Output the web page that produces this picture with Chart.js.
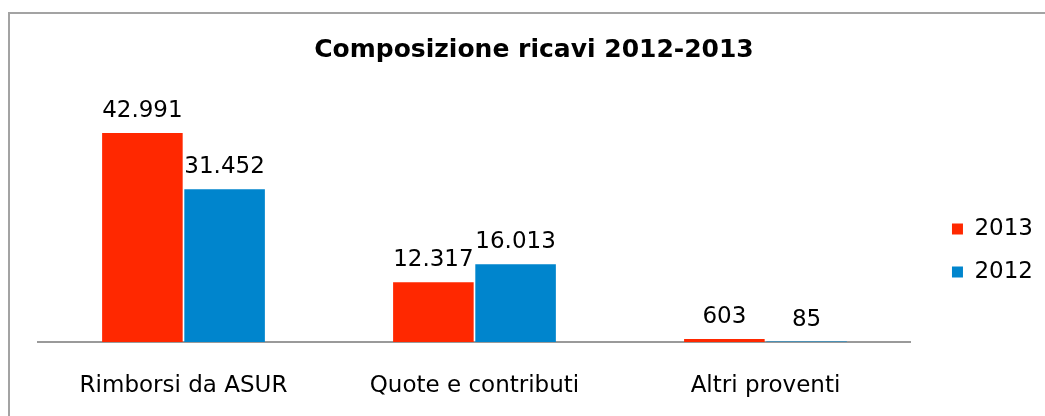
<!DOCTYPE html>
<html>
<head>
<meta charset="utf-8">
<script src="https://cdn.jsdelivr.net/npm/chart.js@4/dist/chart.umd.min.js"></script>
<style>
  html, body { margin: 0; padding: 0; background: #ffffff; overflow: hidden; }
  #frame { position: absolute; left: 8px; top: 12px; width: 2000px; height: 2000px; border: 2px solid #a3a3a3; z-index: 0; }
  #c { position: absolute; left: 0; top: 0; z-index: 1; }
</style>
</head>
<body>
<div id="frame"></div>
<canvas id="c" width="1045" height="416"></canvas>
<script>
const categories = ['Rimborsi da ASUR', 'Quote e contributi', 'Altri proventi'];
const seriesNames = ['2013', '2012'];
const values2013 = [42991, 12317, 603];
const values2012 = [31452, 16013, 85];
const titleText = 'Composizione ricavi 2012-2013';

const FONT = 'DejaVu Sans';

function fmtIt(v) {
  return String(v).replace(/\B(?=(\d{3})+(?!\d))/g, '.');
}

const valueLabels = {
  id: 'valueLabels',
  afterDatasetsDraw(chart) {
    const ctx = chart.ctx;
    ctx.save();
    ctx.font = '23px "' + FONT + '"';
    ctx.fillStyle = '#000000';
    ctx.textAlign = 'center';
    ctx.textBaseline = 'alphabetic';
    chart.data.datasets.forEach((ds, di) => {
      const meta = chart.getDatasetMeta(di);
      meta.data.forEach((bar, i) => {
        ctx.fillText(fmtIt(ds.data[i]), bar.x, bar.y - 16);
      });
    });
    ctx.restore();
  }
};

new Chart(document.getElementById('c'), {
  type: 'bar',
  data: {
    labels: categories,
    datasets: [
      { label: seriesNames[0], data: values2013, backgroundColor: '#ff2800', categoryPercentage: 0.565, barPercentage: 0.98 },
      { label: seriesNames[1], data: values2012, backgroundColor: '#0085cd', categoryPercentage: 0.565, barPercentage: 0.98 }
    ]
  },
  options: {
    responsive: false,
    animation: false,
    devicePixelRatio: 1,
    layout: { padding: { left: 25, right: 2, top: 0, bottom: 17 } },
    plugins: {
      tooltip: { enabled: false },
      title: {
        display: true,
        text: titleText,
        color: '#000000',
        font: { family: FONT, size: 25, weight: 'bold' },
        padding: { top: 35, bottom: 34 }
      },
      legend: {
        display: true,
        position: 'right',
        fullSize: false,
        align: 'center',
        title: { display: true, text: '', font: { size: 10 }, padding: { top: 48, bottom: 0 } },
        labels: {
          color: '#000000',
          font: { family: FONT, size: 23 },
          boxWidth: 11,
          boxHeight: 11,
          padding: 20
        }
      }
    },
    scales: {
      x: {
        grid: { display: false, drawTicks: false },
        border: { display: true, color: '#9a9a9a', width: 2 },
        ticks: { color: '#000000', font: { family: FONT, size: 23 }, padding: 30, maxRotation: 0 },
        afterFit: (s) => { s.height = 57; }
      },
      y: {
        position: 'left',
        min: 0,
        max: 50000,
        grid: { display: false, drawTicks: false },
        border: { display: false },
        ticks: { display: false },
        afterFit: (s) => { s.width = 13; }
      },
      gap: {
        type: 'linear',
        position: 'right',
        grid: { display: false, drawTicks: false },
        border: { display: false },
        ticks: { display: false },
        afterFit: (s) => { s.width = 21; }
      }
    }
  },
  plugins: [valueLabels]
});
</script>
</body>
</html>
